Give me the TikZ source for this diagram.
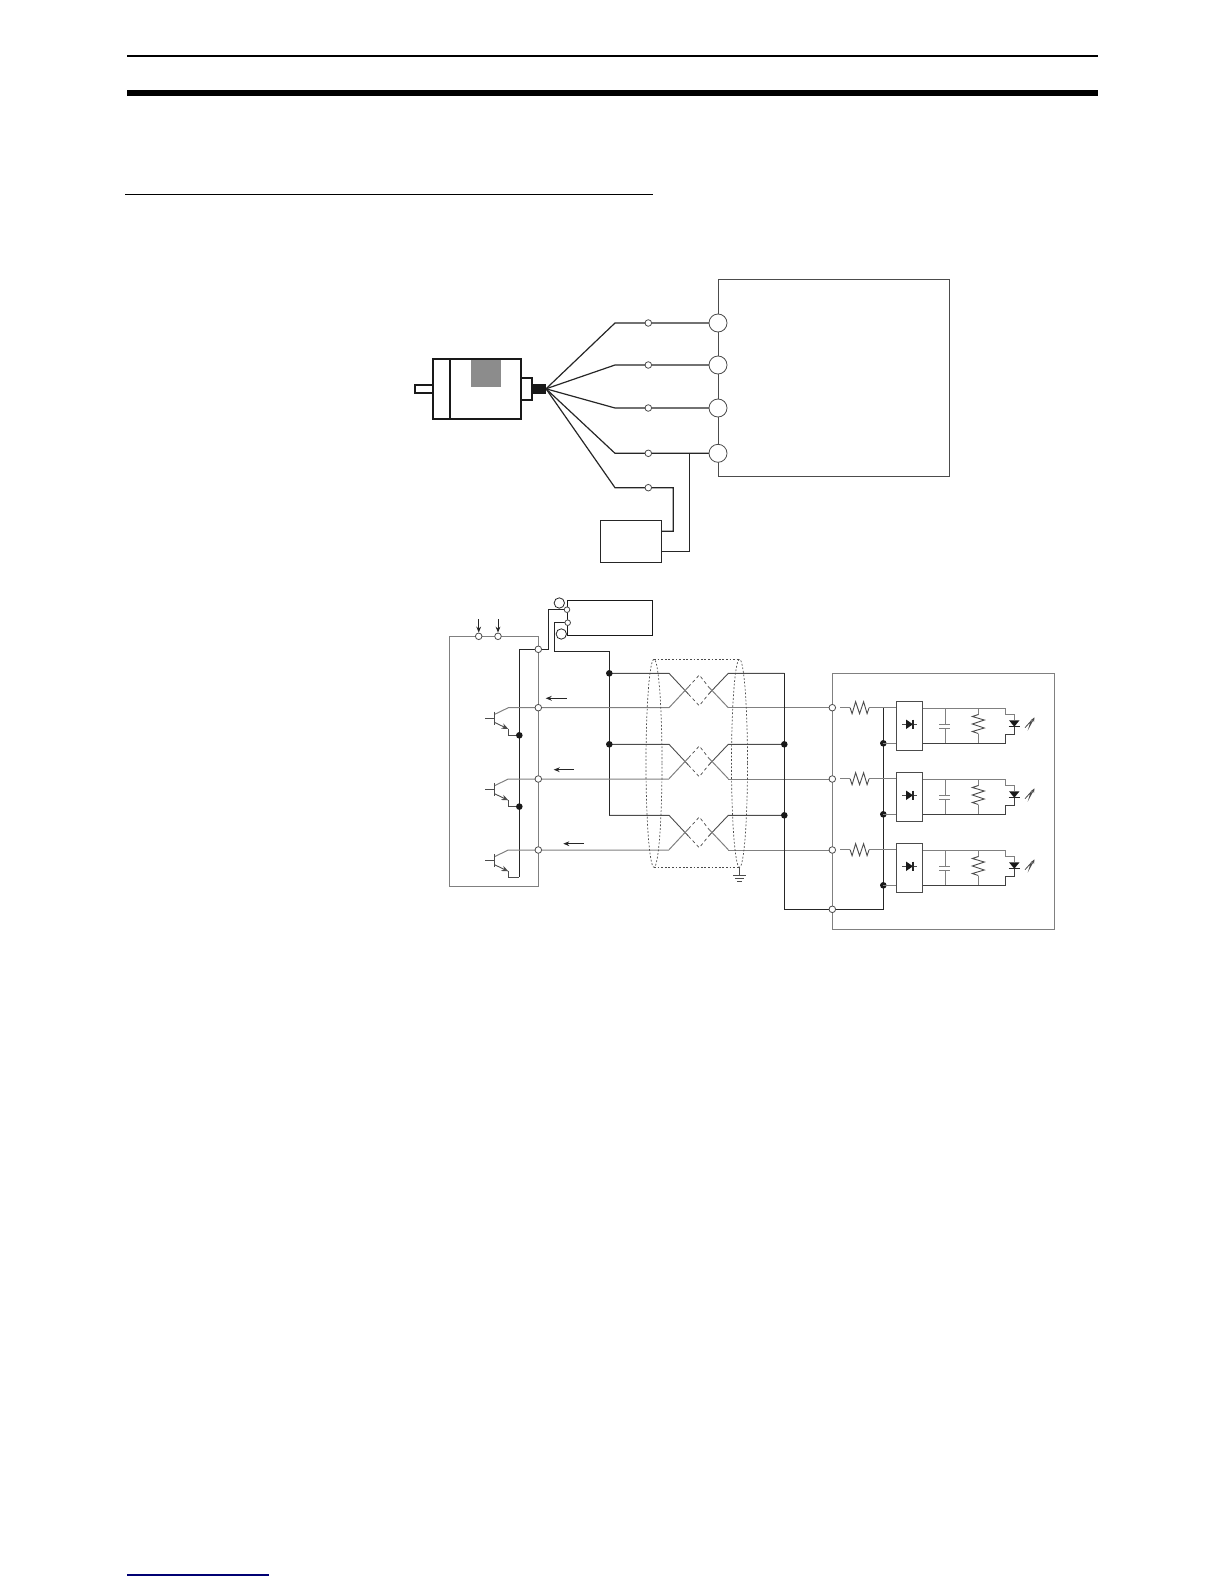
\documentclass[tikz,border=0pt]{standalone}
\usetikzlibrary{arrows.meta}
\pgfdeclarelayer{bg}
\pgfsetlayers{bg,main}
\tikzset{
  wire/.style={line width=.6pt,draw=black!85},
  sig/.style={line width=.5pt,draw=black!50},
  part/.style={line width=.45pt,draw=black!70},
  thick box/.style={line width=1pt,draw=black!90},
  term/.style={circle,draw=black!70,fill=white,line width=.4pt,inner sep=0pt,minimum size=3.3pt},
  bigterm/.style={circle,draw=black!70,fill=white,line width=.4pt,inner sep=0pt,minimum size=9pt},
  midterm/.style={circle,draw=black!85,fill=white,line width=.4pt,inner sep=0pt,minimum size=5.2pt},
  dot/.style={circle,fill=black!90,inner sep=0pt,minimum size=3.3pt},
  shld/.style={line width=.35pt,dash pattern=on .9pt off .9pt,draw=black!70},
  cur/.style={line width=.5pt,-{Stealth[length=3pt,width=2.4pt]},draw=black!85},
  hres/.pic={\draw[part] (-9.5,0) -- (-7.5,6) -- (-4,-6) -- (0,6) -- (4,-6) -- (7.5,6) -- (9.5,0);},
  vres/.pic={\draw[part] (0,-9.5) -- (-6,-7.5) -- (6,-4) -- (-6,0) -- (6,4) -- (-6,7.5) -- (0,9.5);}
}
\begin{document}
\begin{tikzpicture}[x=.5pt,y=-.5pt]
\useasboundingbox (0,0) rectangle (1224,1584);
% page rules
\fill[black] (127,54.7) rectangle (1098,56.7);
\fill[black] (127,90) rectangle (1098,96);
\fill[black] (125,193.6) rectangle (653,195);
\fill[blue!45!black] (127,1574.3) rectangle (269,1575.7);

% ---- motor
\draw[thick box] (433,359.3) rectangle (521.3,419);
\draw[thick box] (450,359.3) -- (450,419);
\fill[black!45] (471,359.8) rectangle (501,386.7);
\draw[thick box] (415.3,384.7) rectangle (433,393.3);
\draw[thick box] (521.3,378.3) rectangle (532.3,400.3);
\node[fill=black!90,inner sep=0pt,minimum width=7pt,minimum height=4.9pt] (plug) at (539.2,388.8) {};
\coordinate (fan) at (546,388.8);

% ---- controller box of the upper drawing
\draw[part] (718,279.7) rectangle (949.5,476.7);
\foreach \i/\y in {1/323,2/365,3/408,4/453.3}{
  \node[bigterm] (U\i) at (718,\y) {};
  \node[term] (T\i) at (648.3,\y) {};
  \coordinate (B\i) at (615,\y);
  \begin{pgfonlayer}{bg}
    \draw[wire] (fan) -- (B\i) -- (T\i.center) -- (U\i.center);
  \end{pgfonlayer}
}
\node[term] (T5) at (648.3,487.7) {};
\coordinate (B5) at (615,487.7);
\node[draw=black!85,line width=.5pt,minimum width=30.7pt,minimum height=21pt,inner sep=0pt] (psu) at (631,541.3) {};
\coordinate (J4) at (689.3,453.3);
\begin{pgfonlayer}{bg}
  \draw[wire] (fan) -- (B5) -- (T5.center) -- (673.3,487.7) -- (673.3,531.3) -- (psu.east |- 0,531.3);
  \draw[wire] (J4) -- (689.3,551.3) -- (psu.east |- 0,551.3);
\end{pgfonlayer}

% ---- lower drawing: power supply
\node[draw=black!90,line width=.6pt,minimum width=42.5pt,minimum height=17.5pt,inner sep=0pt] (ps) at (609.8,617.8) {};
\node[midterm] (PSa) at (559.3,603) {};
\node[midterm] (PSb) at (561.3,634) {};
\node[term,minimum size=2.8pt] (ps1) at (567,609.7) {};
\node[term,minimum size=2.8pt] (ps2) at (567.7,622.7) {};

% ---- output unit frame
\node[term] (C1) at (478.7,636.3) {};
\node[term] (C2) at (498,636.3) {};
\node[term] (Vcc) at (538.3,649.3) {};
\draw[cur] (478.7,619.3) -- (C1.north);
\draw[cur] (498,619.3) -- (C2.north);
\begin{pgfonlayer}{bg}
  \draw[sig,line width=.45pt] (C1.center) -- (449,636.3) -- (449,886.3) -- (538.3,886.3) -- (538.3,636.3) -- (C2.center) -- (C1.center);
  \draw[wire] (ps1.center) -- (548.7,609.7) -- (548.7,649.3) -- (Vcc.center);
  \draw[wire] (Vcc.center) -- (519.3,649.3) -- (519.3,877.3);
  \draw[wire] (ps2.center) -- (554.7,622.7) -- (554.7,651.3) -- (609.3,651.3) -- (609.3,815.5);
\end{pgfonlayer}

% ---- transistor outputs
\foreach \i/\dy in {1/0,2/71.3,3/142.3}{
  \begin{scope}[yshift=-.5pt*\dy]
    \node[term] (O\i) at (538.3,707.7) {};
    \node[term] (R\i) at (832.3,707.7) {};
    \draw[part] (485,718) -- (494.3,718);
    \draw[part] (494.3,711.5) -- (494.3,725);
    \begin{pgfonlayer}{bg}
      \draw[sig] (494.3,714.5) -- (508.3,707.7) -- (O\i.center) -- (669,707.7);
      \draw[sig] (728.3,707.7) -- (R\i.center);
    \end{pgfonlayer}
    \draw[part,-{Stealth[length=3.4pt,width=2.8pt]}] (494.3,722.3) -- (508.3,729);
    \draw[part] (508.3,729) -- (508.3,735.3) -- (519.3,735.3);
  \end{scope}
}
\node[dot] (E1) at (519.3,735.3) {};
\node[dot] (E2) at (519.3,806.6) {};
\draw[cur] (566.7,698.3) -- (545.7,698.3);
\draw[cur] (574,769.7) -- (553.7,769.7);
\draw[cur] (584,843.7) -- (563.3,843.7);

% ---- twisted pairs
\foreach \i/\dy in {1/0,2/71,3/142}{
  \begin{scope}[yshift=-.5pt*\dy]
    \draw[part] (609.3,673.3) -- (669,673.3) -- (688.5,694.2);
    \draw[sig]  (669,707.7) -- (688.5,686.8);
    \draw[part,dash pattern=on 1.6pt off 1.4pt,line width=.35pt] (688.5,694.2) -- (699.3,705.7) -- (708.5,694.2);
    \draw[part,dash pattern=on 1.6pt off 1.4pt,line width=.35pt] (688.5,686.8) -- (699.3,675) -- (708.5,686.8);
    \draw[part] (708.5,694.2) -- (728.3,673.3) -- (784.3,673.3);
    \draw[sig]  (708.5,686.8) -- (728.3,707.7);
  \end{scope}
}
\node[dot] (L1) at (609.3,673.3) {};
\node[dot] (L2) at (609.3,744.3) {};
\node[dot] (Q2) at (784.3,744.3) {};
\node[dot] (Q3) at (784.3,815.3) {};

% ---- shield
\draw[shld] (654,763.3) ellipse [x radius=8,y radius=104];
\draw[shld] (739.5,763.3) ellipse [x radius=8,y radius=104];
\draw[shld] (654,659.3) -- (739.5,659.3);
\draw[shld] (654,867.3) -- (739.5,867.3);
\coordinate (gnd) at (739,875.3);
\draw[part] (739,867.3) -- (gnd);
\draw[part] (733,875.3) -- (746,875.3);
\draw[part] (735,878.2) -- (744,878.2);
\draw[part] (737,881) -- (742,881);

% ---- input unit
\node[term] (Rc) at (832.3,909.3) {};
\begin{pgfonlayer}{bg}
  \draw[sig] (832.3,673.3) -- (1054.3,673.3) -- (1054.3,929) -- (832.3,929) -- cycle;
  \draw[wire] (784.3,673.3) -- (784.3,909.3) -- (Rc.center) -- (883.3,909.3) -- (883.3,707.7);
\end{pgfonlayer}
\foreach \i/\dy in {1/0,2/71,3/142}{
  \begin{scope}[yshift=-.5pt*\dy]
    \node[draw=black!70,fill=white,line width=.5pt,minimum width=13.3pt,minimum height=24.5pt,inner sep=0pt] (pc\i) at (909.3,725.8) {};
    \node[dot] (N\i) at (883.3,743.3) {};
    \pic at (859.6,707.7) {hres};
    \draw[sig] (840,707.7) -- (850,707.7);
    \draw[sig] (869.3,707.7) -- (pc\i.west |- 0,707.7);
    \draw[sig] (N\i.center) -- (pc\i.west |- 0,743.3);
    \draw[sig] (pc\i.east |- 0,708) -- (1005,708) -- (1005,714.3) -- (1014.3,714.3) -- (1014.3,720.3);
    \draw[sig,draw=black!75] (pc\i.east |- 0,743.3) -- (1005,743.3) -- (1005,734) -- (1014.3,734) -- (1014.3,726.7);
    % diode in the isolator
    \draw[part] (902.3,724.3) -- (916.7,724.3);
    \fill[black!90] (906,719.5) -- (913,724.3) -- (906,729) -- cycle;
    \draw[wire] (913,719.5) -- (913,729);
    % capacitor
    \draw[sig] (945,708) -- (945,724);
    \draw[sig] (945,728.3) -- (945,743.3);
    \draw[sig] (939,724) -- (950,724);
    \draw[sig] (939,728.3) -- (950,728.3);
    % resistor
    \draw[sig] (978.3,708) -- (978.3,714.5);
    \draw[sig] (978.3,733.5) -- (978.3,743.3);
    \pic at (978.3,724) {vres};
    % LED
    \fill[black!90] (1009,720.3) -- (1019.5,720.3) -- (1014.3,726.7) -- cycle;
    \draw[wire] (1008.7,726.7) -- (1020,726.7);
    \draw[part,line width=.4pt,-{Stealth[length=2.2pt,width=1.8pt]}] (1025,727.7) -- (1031,721) -- (1029.2,727) -- (1034.5,717.3);
  \end{scope}
}
\end{tikzpicture}
\end{document}
